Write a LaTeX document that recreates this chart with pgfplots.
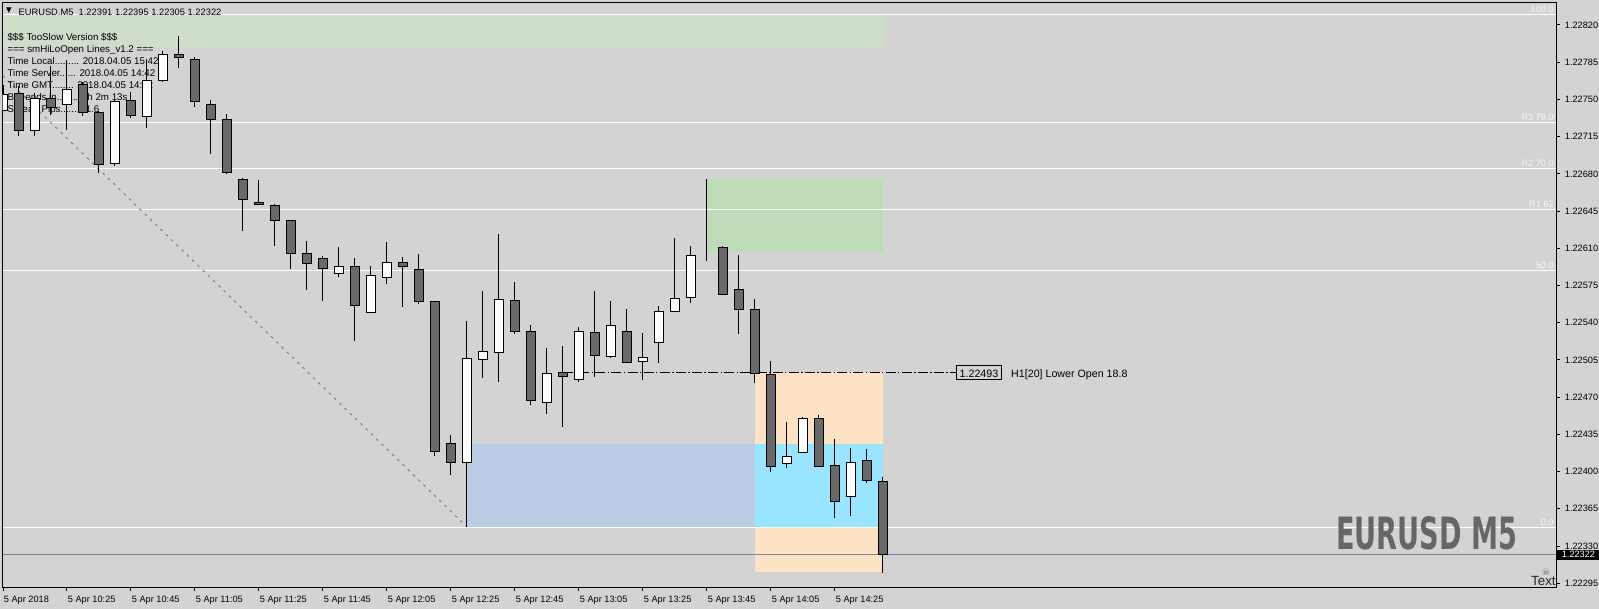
\documentclass[border=0pt]{standalone}
\usepackage{pgfplots}
\pgfplotsset{compat=1.18}
\usepackage{pgfplotstable}
\usepackage{fontspec}
\usepackage{graphicx}
\setmainfont{Liberation Sans}
\newfontfamily\dejavu{DejaVu Sans}
\definecolor{bg}{RGB}{211,211,211}
\definecolor{dimg}{RGB}{105,105,105}
\definecolor{slate}{RGB}{112,128,144}
\definecolor{lslate}{RGB}{119,136,153}
\definecolor{gtop}{RGB}{207,221,203}
\definecolor{gbox}{RGB}{190,219,183}
\definecolor{bbox}{RGB}{185,205,229}
\definecolor{cbox}{RGB}{153,229,255}
\definecolor{obox}{RGB}{253,227,196}
\definecolor{fibtxt}{RGB}{246,246,246}
\definecolor{bigtxt}{RGB}{102,102,102}

% prices in points: value = (price - 1.22) * 100000
\pgfplotstableread{
i o h l c
0 740 764 739 755
1 756 763 716 721
2 721 756 716 751
3 751 781 735 742
4 745 787 721 759
5 764 766 734 738
6 738 739 681 689
7 690 750 687 748
8 749 757 733 735
9 734 787 723 768
10 768 796 766 792
11 792 810 780 789
12 788 790 743 748
13 745 749 699 731
14 731 736 680 681
15 675 676 626 656
16 653 674 651 651
17 650 652 612 636
18 636 637 591 605
19 605 617 571 596
20 600 603 560 591
21 586 611 583 593
22 593 601 523 556
23 550 593 549 584
24 583 616 576 597
25 597 602 555 593
26 590 605 558 560
27 560 560 415 419
28 426 434 397 409
29 409 542 348 506
30 505 570 488 513
31 512 623 484 562
32 561 578 529 532
33 532 538 463 467
34 465 516 454 492
35 493 518 442 489
36 487 536 484 532
37 531 570 489 509
38 508 560 507 537
39 532 553 502 503
40 504 530 486 507
41 521 556 502 551
42 551 620 551 563
43 564 612 559 603
44 607 675 598 607
45 611 612 566 567
46 571 604 529 552
47 552 562 483 492
48 491 504 400 405
49 408 447 403 414
50 418 451 418 450
51 450 453 405 405
52 406 431 356 372
53 377 422 358 409
54 410 421 389 392
55 391 395 305 322
}\candles

\pgfplotsset{mtaxis/.style={
  scale only axis, width=1165.2pt, height=438.225pt,
  at={(2.025pt,16.275pt)}, anchor=south west,
  xmin=-0.01875, xmax=97.08, ymin=291.2, ymax=840.7,
}}
\tikzset{
  mt/.style={font=\fontsize{7.3}{8.5}\selectfont, inner sep=0pt, text height=0.72em, text depth=0pt, anchor=west, text=black},
  fibl/.style={font=\fontsize{6.9}{8}\selectfont, inner sep=0pt, anchor=base east, text=fibtxt},
}

\begin{document}
\begin{tikzpicture}
\useasboundingbox (0,0) rectangle (1199.25pt,456.75pt);
\fill[bg] (0,0) rectangle (1199.25pt,456.75pt);
\begin{axis}[mtaxis, axis on top, clip mode=individual,
  axis line style={black, line width=0.75pt},
  tick align=outside, major tick length=3pt,
  tick style={black, line width=0.75pt},
  xtick pos=left, ytick pos=right, yticklabel pos=right,
  xtick={0,4,...,52},
  xticklabels={{5 Apr 2018},{5 Apr 10:25},{5 Apr 10:45},{5 Apr 11:05},{5 Apr 11:25},{5 Apr 11:45},{5 Apr 12:05},{5 Apr 12:25},{5 Apr 12:45},{5 Apr 13:05},{5 Apr 13:25},{5 Apr 13:45},{5 Apr 14:05},{5 Apr 14:25}},
  ytick={295,330,...,820},
  yticklabels={1.22295,1.22330,1.22365,1.22400,1.22435,1.22470,1.22505,1.22540,1.22575,1.22610,1.22645,1.22680,1.22715,1.22750,1.22785,1.22820},
  tick label style={font=\fontsize{6.9}{8}\selectfont, black},
  xticklabel style={anchor=north west, inner xsep=0pt, xshift=0.5pt},
  yticklabel style={anchor=west},
]
% boxes
\addplot[draw=none, fill=gtop] coordinates {(-1,799) (55,799) (55,830.1) (-1,830.1)};
\addplot[draw=none, fill=gbox] coordinates {(44,606.8) (55,606.8) (55,675.2) (44,675.2)};
\addplot[draw=none, fill=bbox] coordinates {(29,347.7) (47,347.7) (47,426) (29,426)};
\addplot[draw=none, fill=obox] coordinates {(47,305.9) (55,305.9) (55,493.4) (47,493.4)};
\addplot[draw=none, fill=cbox] coordinates {(47,347.7) (55,347.7) (55,426) (47,426)};
% fibo lines
\addplot[white, line width=0.75pt] coordinates {(-1,830.1) (98,830.1)};
\addplot[white, line width=0.75pt] coordinates {(-1,728.5) (98,728.5)};
\addplot[white, line width=0.75pt] coordinates {(-1,685.2) (98,685.2)};
\addplot[white, line width=0.75pt] coordinates {(-1,646.7) (98,646.7)};
\addplot[white, line width=0.75pt] coordinates {(-1,588.7) (98,588.7)};
\addplot[white, line width=0.75pt] coordinates {(-1,347.7) (98,347.7)};
% current price line
\addplot[lslate, line width=0.75pt] coordinates {(-1,322) (98,322)};
% diagonal
\addplot[slate, line width=0.75pt, dash pattern=on 2pt off 3.5pt] coordinates {(-1,786.6) (29,348)};
% H1 lower open
\addplot[black, line width=0.75pt, dash pattern=on 7.5pt off 1.8pt on 1pt off 1.8pt] coordinates {(35,493) (59.69,493)};

% texts
\node[fibl] at (axis cs:96.94,832.1) {100.0};
\node[fibl] at (axis cs:96.94,730.5) {R3 79.0};
\node[fibl] at (axis cs:96.94,687.2) {R2 70.0};
\node[fibl] at (axis cs:96.94,648.7) {R1 62};
\node[fibl] at (axis cs:96.94,590.7) {50.0};
\node[fibl] at (axis cs:96.94,349.7) {0.0};

\node[font=\dejavu\fontsize{5.5}{6}\selectfont, inner sep=0pt] at (axis cs:0.375,833.4) {▼};
\node[mt, font=\fontsize{7}{8}\selectfont] at (axis cs:0.956,833.4) {EURUSD.M5\ \ 1.22391 1.22395 1.22305 1.22322};

\node[mt] at (axis cs:0.27,809.9) {\$\$\$ TooSlow Version \$\$\$};
\node[mt] at (axis cs:0.27,798.7) {=== smHiLoOpen Lines\_v1.2 ===};
\node[mt] at (axis cs:0.27,787.7) {Time Local......... 2018.04.05 15:42};
\node[mt] at (axis cs:0.27,776.5) {Time Server...... 2018.04.05 14:42};
\node[mt] at (axis cs:0.27,764.8) {Time GMT........ 2018.04.05 14:42};
\node[mt] at (axis cs:0.27,753.5) {Bar ends in........ 0h 2m 13s};
\node[mt] at (axis cs:0.27,742.2) {Spread Pips........ 1.6};

\node[mt, font=\fontsize{8}{9}\selectfont, anchor=center, draw=black, line width=0.75pt, inner xsep=2.6pt, inner ysep=1.8pt, fill=bg] at (axis cs:61.0,493) {1.22493};
\node[mt, font=\fontsize{8}{9}\selectfont] at (axis cs:63.0,493) {H1[20] Lower Open 18.8};

\node[anchor=base west, inner sep=0pt, text=bigtxt] at (axis cs:83.31,326.3) {\resizebox{135.75pt}{24.75pt}{\dejavu\bfseries EURUSD M5}};

\node[mt, font=\fontsize{10}{12}\selectfont, anchor=east, text=black!85] at (axis cs:97.06,297.2) {Text};
\node[font=\dejavu\fontsize{7}{8}\selectfont, text=dimg, inner sep=0pt] at (axis cs:96.44,305.9) {☠};

\node[font=\fontsize{6.9}{8}\selectfont, fill=black, text=white, inner sep=0pt, minimum width=31.5pt, minimum height=7.5pt, anchor=west] at (axis cs:97.14,322) {1.22322};

% wicks
\addplot[draw=none, mark=none, error bars/.cd, y dir=both, y explicit, error mark=none,
  error bar style={draw=black, line width=0.75pt, solid}]
  table[x=i, y expr={(\thisrow{h}+\thisrow{l})/2}, y error expr={(\thisrow{h}-\thisrow{l})/2}] {\candles};
\end{axis}

\begin{axis}[mtaxis, hide axis, ybar stacked, bar width=7.1pt]
\addplot[draw=none, fill=none] table[x=i, y expr={min(\thisrow{o},\thisrow{c})}] {\candles};
\addplot[draw=black, fill=white, line width=0.75pt] table[x=i, y expr={max(\thisrow{c}-\thisrow{o},0)}] {\candles};
\addplot[draw=black, fill=dimg, line width=0.75pt] table[x=i, y expr={max(\thisrow{o}-\thisrow{c},0)}] {\candles};
\end{axis}
\end{tikzpicture}
\end{document}
